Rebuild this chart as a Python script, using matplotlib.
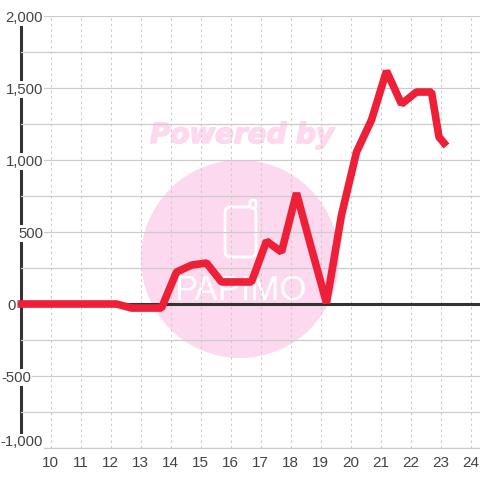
#!/usr/bin/python

import matplotlib
matplotlib.use('Agg')
import matplotlib.pyplot as plt
import matplotlib.patheffects as pe
from matplotlib.patches import Ellipse, FancyBboxPatch
from matplotlib.transforms import ScaledTranslation, blended_transform_factory

hours = [8.9, 12.2, 12.7, 13.2, 13.7, 14.2, 14.7, 15.2, 15.7, 16.2, 16.7, 17.2, 17.7,
         18.2, 18.7, 19.2, 19.7, 20.2, 20.7, 21.2, 21.7, 22.2, 22.7, 22.95, 23.2]
values = [0, 0, -28, -28, -28, 222, 270, 285, 153, 153, 153, 437, 361,
          770, 385, 7, 618, 1055, 1278, 1618, 1389, 1472, 1472, 1160, 1097]
x_ticks = list(range(10, 25))
y_ticks = [-1000, -500, 0, 500, 1000, 1500, 2000]
y_minor = [-750, -250, 250, 750, 1250, 1750]

RED = '#ee2038'
PINK = '#fcd9ee'
DARK = '#333333'
GRID = '#cccccc'
TEXT = '#444444'

plt.rcParams['font.family'] = ['Liberation Sans', 'DejaVu Sans']

fig = plt.figure(figsize=(4.8, 4.8), dpi=100, facecolor='white')
ax = fig.add_axes([20.5/480, 32/480, 459.5/480, 432/480])
ax.set_xlim(9, 9 + 459.5/30)
ax.set_ylim(-1000, 2000)
ax.patch.set_alpha(0)
ax.set_zorder(1)


def px(x, y):
    return x/480, 1 - y/480


# watermark, sits under the grid
fig.add_artist(Ellipse(px(240, 259), 198/480, 198/480, transform=fig.transFigure,
                       facecolor=PINK, edgecolor='none', zorder=0))
fig.text(*px(242, 135), 'Powered by', family='DejaVu Sans', weight='bold', style='italic',
         fontsize=20, color=PINK, ha='center', va='center', zorder=0,
         path_effects=[pe.withStroke(linewidth=1.2, foreground=PINK)])
fig.add_artist(FancyBboxPatch(px(225, 257), 31/480, 50/480, boxstyle='round,pad=0,rounding_size=0.012',
                              transform=fig.transFigure, facecolor='none', edgecolor='white',
                              linewidth=2, zorder=0.1))
fig.add_artist(FancyBboxPatch(px(250, 208), 6/480, 8/480, boxstyle='round,pad=0,rounding_size=0.005',
                              transform=fig.transFigure, facecolor=PINK, edgecolor='white',
                              linewidth=2, zorder=0.1))
fig.text(*px(240, 291), 'PAPIMO', family='Liberation Sans', fontsize=25,
         color='white', ha='center', va='center', zorder=0.1)

ax.set_axisbelow(True)
ax.set_xticks(x_ticks)
ax.set_yticks(y_ticks)
ax.set_yticks(y_minor, minor=True)
ax.set_yticklabels([])
ax.grid(axis='y', which='both', color=GRID, linewidth=0.9, linestyle='solid')
ax.grid(axis='x', which='major', color=GRID, linewidth=0.8, linestyle=(0, (2.2, 2.8)))
ax.tick_params(axis='y', which='both', length=0)
ax.tick_params(axis='x', length=0, pad=5.5, labelsize=11, labelcolor=TEXT)

for name in ['top', 'right', 'bottom']:
    ax.spines[name].set_visible(False)
ax.spines['left'].set_color(DARK)
ax.spines['left'].set_linewidth(2.2)
ax.spines['left'].set_zorder(0.4)

ax.axhline(0, color=DARK, linewidth=2.2, zorder=3)
ax.axhline(-1000, color=GRID, linewidth=0.9, zorder=0.6, clip_on=False)
ax.plot(hours, values, color=RED, linewidth=5.5, solid_joinstyle='bevel',
        solid_capstyle='butt', zorder=4, clip_on=False)

# y labels sit inside the plot and each stops at its own right edge
label_right = {-1000: 43, -500: 31, 0: 16, 500: 43, 1000: 43, 1500: 43, 2000: 43}
trans = blended_transform_factory(fig.transFigure, ax.transData) + ScaledTranslation(0, -1.5/100, fig.dpi_scale_trans)
for v in y_ticks:
    ax.text(label_right[v]/480, v, f'{v:,}', transform=trans, ha='right',
            va='bottom' if v == -1000 else 'center', fontsize=10.7, color=TEXT, zorder=5,
            clip_on=False, bbox=dict(facecolor='white', edgecolor='none', pad=1.0))

fig.savefig('out.png', dpi=100)
